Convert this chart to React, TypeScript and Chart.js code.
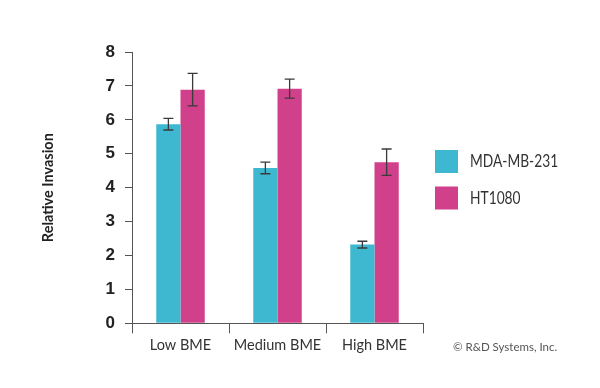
import React, { useEffect, useRef } from "react";
import { Chart, registerables } from "chart.js";

Chart.register(...registerables);

const categories = ["Low BME", "Medium BME", "High BME"];
const seriesNames = ["MDA-MB-231", "HT1080"];
const mdaValues = [5.87, 4.58, 2.32];
const mdaErrors = [0.17, 0.17, 0.1];
const htValues = [6.89, 6.92, 4.75];
const htErrors = [0.48, 0.28, 0.39];
const seriesColors = ["#3eb8d0", "#d1408a"];
const yTicks = [0, 1, 2, 3, 4, 5, 6, 7, 8];
const yTitle = "Relative Invasion";
const copyright = "\u00a9 R&D Systems, Inc.";

const FONT = "Lato, 'Liberation Sans', sans-serif";

const errorBarPlugin = {
  id: "errorBars",
  afterDatasetsDraw(chart: any) {
    const ctx = chart.ctx;
    const y = chart.scales.y;
    const errs = [mdaErrors, htErrors];
    chart.data.datasets.forEach((ds: any, di: number) => {
      const meta = chart.getDatasetMeta(di);
      meta.data.forEach((bar: any, i: number) => {
        const v = ds.data[i];
        const e = errs[di][i];
        const top = y.getPixelForValue(v + e);
        const bot = y.getPixelForValue(v - e);
        const x = bar.x;
        ctx.save();
        ctx.strokeStyle = "#3a3a3a";
        ctx.lineWidth = 1.3;
        ctx.beginPath();
        ctx.moveTo(x, top);
        ctx.lineTo(x, bot);
        ctx.moveTo(x - 5, top);
        ctx.lineTo(x + 5, top);
        ctx.moveTo(x - 5, bot);
        ctx.lineTo(x + 5, bot);
        ctx.stroke();
        ctx.restore();
      });
    });
  },
};

const legendPlugin = {
  id: "customLegend",
  afterDraw(chart: any) {
    const ctx = chart.ctx;
    const area = chart.chartArea;
    const x0 = area.right + 12;
    const y0 = area.top + 98;
    ctx.save();
    seriesNames.forEach((name, i) => {
      const yy = y0 + i * 36.5;
      ctx.fillStyle = seriesColors[i];
      ctx.fillRect(x0, yy, 23, 23);
      ctx.save();
      ctx.fillStyle = "#333333";
      ctx.font = `17px ${FONT}`;
      ctx.textBaseline = "middle";
      ctx.textAlign = "left";
      ctx.translate(x0 + 35, yy + 12);
      ctx.scale(0.81, 1);
      ctx.fillText(name, 0, 0);
      ctx.restore();
    });
    ctx.font = `11.5px ${FONT}`;
    ctx.fillStyle = "#555555";
    ctx.textBaseline = "middle";
    ctx.textAlign = "left";
    ctx.fillText(copyright, area.right + 30, area.bottom + 24);
    ctx.restore();
  },
};

export default function App() {
  const ref = useRef<HTMLCanvasElement | null>(null);

  useEffect(() => {
    if (!ref.current) return;
    const chart = new Chart(ref.current, {
      type: "bar",
      data: {
        labels: categories,
        datasets: [
          {
            label: seriesNames[0],
            data: mdaValues,
            backgroundColor: seriesColors[0],
            borderWidth: 0,
          },
          {
            label: seriesNames[1],
            data: htValues,
            backgroundColor: seriesColors[1],
            borderWidth: 0,
          },
        ],
      },
      options: {
        responsive: false,
        animation: false,
        devicePixelRatio: 1,
        layout: { padding: { left: 0, top: 52, right: 177, bottom: 0 } },
        datasets: {
          bar: { categoryPercentage: 0.5, barPercentage: 1.0 },
        },
        plugins: {
          legend: { display: false },
          tooltip: { enabled: false },
        },
        scales: {
          x: {
            offset: true,
            grid: {
              drawOnChartArea: false,
              drawTicks: true,
              tickLength: 10,
              color: "#555555",
              offset: true,
            },
            border: { color: "#555555", width: 1 },
            ticks: {
              color: "#333333",
              font: { family: FONT, size: 14.5 },
              padding: 3,
              maxRotation: 0,
              minRotation: 0,
              autoSkip: false,
            },
            afterFit(scale: any) {
              scale.height = 64.7;
            },
          },
          y: {
            min: 0,
            max: 8,
            afterBuildTicks(scale: any) {
              scale.ticks = yTicks.map((v) => ({ value: v }));
            },
            grid: {
              drawOnChartArea: false,
              drawTicks: true,
              tickLength: 7,
              color: "#555555",
            },
            border: { color: "#555555", width: 1 },
            ticks: {
              color: "#222222",
              font: { family: "'Liberation Sans', 'DejaVu Sans', sans-serif", size: 17, weight: "bold" },
              padding: 10,
            },
            title: {
              display: true,
              text: yTitle,
              color: "#222222",
              font: { family: FONT, size: 14.5, weight: "bold" },
              padding: { top: 40, bottom: 0 },
            },
            afterFit(scale: any) {
              scale.width = 132;
            },
          },
        },
      },
      plugins: [errorBarPlugin, legendPlugin],
    });
    return () => chart.destroy();
  }, []);

  return (
    <div style={{ position: "fixed", left: 0, top: 0, width: 600, height: 388, background: "#ffffff" }}>
      <canvas ref={ref} width={600} height={388} style={{ width: 600, height: 388, display: "block" }} />
    </div>
  );
}
